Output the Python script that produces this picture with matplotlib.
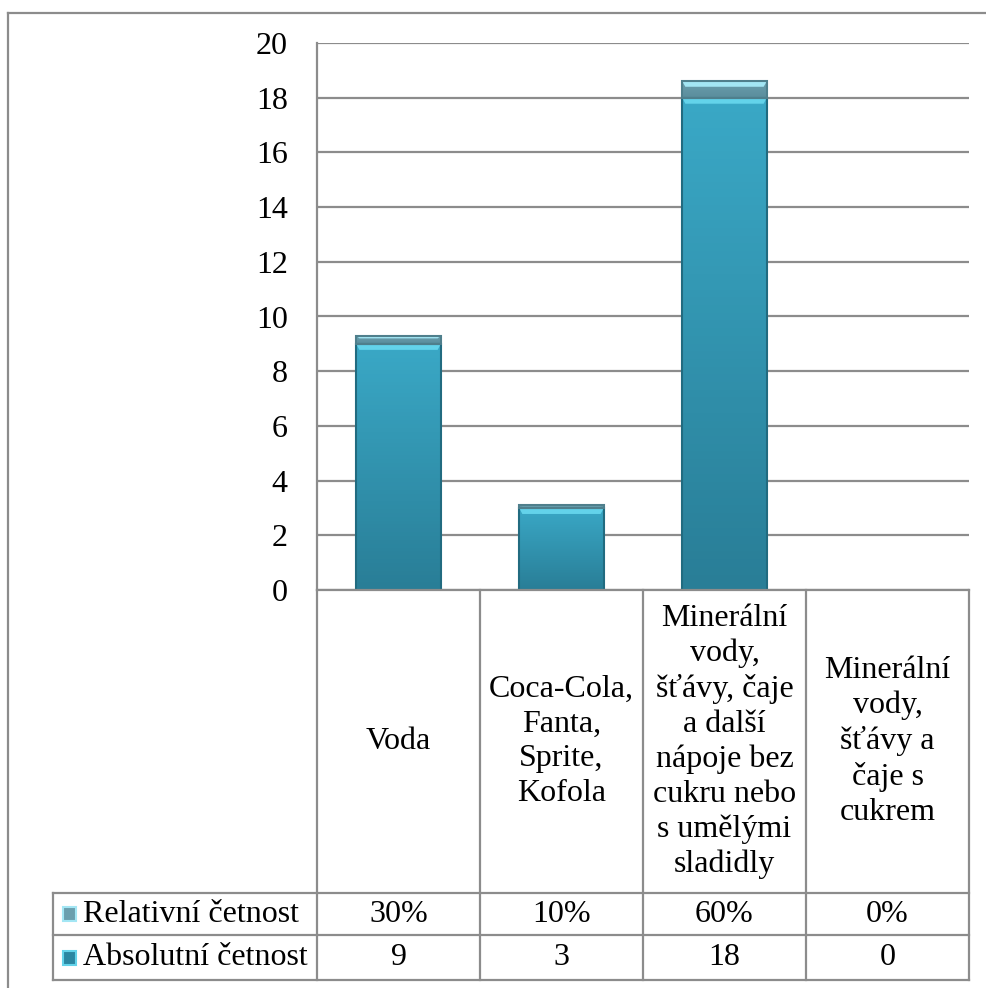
import matplotlib.pyplot as plt
import numpy as np
from matplotlib.lines import Line2D
from matplotlib.patches import Rectangle

plt.rcParams['font.family'] = ['Liberation Serif', 'DejaVu Serif']

# categories and counts
categories = ['Voda',
              'Coca-Cola,\nFanta,\nSprite,\nKofola',
              'Minerální\nvody,\nšťávy, čaje\na další\nnápoje bez\ncukru nebo\ns umělými\nsladidly',
              'Minerální\nvody,\nšťávy a\nčaje s\ncukrem']
absolute = [9, 3, 18, 0]
relative = [0.3, 0.1, 0.6, 0.0]
relative_labels = ['30%', '10%', '60%', '0%']
series_names = ['Relativní četnost', 'Absolutní četnost']
yticks = list(range(0, 21, 2))

W, H = 986, 988
fig = plt.figure(figsize=(W / 100, H / 100), dpi=100)
FS = 23
GRID = '#8c8c8c'


def fx(px):
    return px / W


def fy(py):
    return 1 - py / H


# plot area in pixels
left, right, top, base = 317, 969, 43, 590
ax = fig.add_axes([fx(left), fy(base), fx(right - left), fy(top) - fy(base)])
ax.set_xlim(-0.5, len(categories) - 0.5)
ax.set_ylim(0, 20)
ax.set_yticks(yticks)
ax.tick_params(axis='y', length=0, labelsize=FS, pad=21)
ax.set_xticks([])
ax.yaxis.grid(True, color=GRID, linewidth=1.6)
ax.set_axisbelow(True)
for s in ['top', 'right', 'bottom']:
    ax.spines[s].set_visible(False)
ax.spines['left'].set_color(GRID)
ax.spines['left'].set_linewidth(1.6)

x = np.arange(len(categories))
bw = 0.52
bev = 0.22


def gradient_bar(xc, y0, h, c_top, c_bot, hi, edge):
    if h <= 0:
        return
    rect = Rectangle((xc - bw / 2, y0), bw, h, facecolor='none', edgecolor='none')
    ax.add_patch(rect)
    cmap = plt.matplotlib.colors.LinearSegmentedColormap.from_list('g', [c_bot, c_top])
    grad = np.linspace(0, 1, 64).reshape(-1, 1)
    im = ax.imshow(grad, cmap=cmap, aspect='auto', origin='lower',
                   extent=(xc - bw / 2, xc + bw / 2, y0, y0 + h), zorder=2)
    im.set_clip_path(rect)
    # bevel: light top strip, dark outline
    b = min(bev, h / 3)
    ax.fill([xc - bw / 2, xc + bw / 2, xc + bw / 2 - 0.02, xc - bw / 2 + 0.02],
            [y0 + h, y0 + h, y0 + h - b, y0 + h - b], color=hi, zorder=3, lw=0)
    ax.add_patch(Rectangle((xc - bw / 2, y0), bw, h, facecolor='none',
                           edgecolor=edge, linewidth=1.5, zorder=4))


for i in range(len(categories)):
    gradient_bar(x[i], 0, absolute[i], '#3aa8c6', '#297e97', '#63d3ea', '#216b80')
    gradient_bar(x[i], absolute[i], relative[i], '#6b9fae', '#5a8d9c', '#a3e6f4', '#4f7f8c')
ax.set_xlim(-0.5, len(categories) - 0.5)
ax.set_ylim(0, 20)

# data table below the plot
col_x = np.linspace(left, right, len(categories) + 1)
row_y = [base, 893, 935, 980]
label_left = 53


def hline(x0, x1, y):
    fig.add_artist(Line2D([fx(x0), fx(x1)], [fy(y), fy(y)], color=GRID, lw=1.6))


def vline(xp, y0, y1):
    fig.add_artist(Line2D([fx(xp), fx(xp)], [fy(y0), fy(y1)], color=GRID, lw=1.6))


hline(left, right, row_y[0])
for y in row_y[1:]:
    hline(label_left, right, y)
for xp in col_x:
    vline(xp, row_y[0], row_y[-1])
vline(label_left, row_y[1], row_y[-1])

for i, cat in enumerate(categories):
    cx = (col_x[i] + col_x[i + 1]) / 2
    fig.text(fx(cx), fy((row_y[0] + row_y[1]) / 2), cat, ha='center', va='center',
             fontsize=FS, linespacing=1.26)
    fig.text(fx(cx), fy((row_y[1] + row_y[2]) / 2), relative_labels[i],
             ha='center', va='center', fontsize=FS)
    fig.text(fx(cx), fy((row_y[2] + row_y[3]) / 2), str(absolute[i]),
             ha='center', va='center', fontsize=FS)

# row headers with legend keys
key_cols = [('#a3e6f4', '#6b9fae'), ('#63d3ea', '#2b87a2')]
for r, name in enumerate(series_names):
    yc = (row_y[r + 1] + row_y[r + 2]) / 2
    kc = key_cols[r]
    fig.add_artist(Rectangle((fx(63), fy(yc + 7)), fx(13), fy(yc - 7) - fy(yc + 7),
                             facecolor=kc[1], edgecolor=kc[0], linewidth=1.5))
    fig.text(fx(83), fy(yc), name, ha='left', va='center', fontsize=FS)

# outer frame
fig.add_artist(Line2D([fx(8), fx(8)], [fy(13), 0], color=GRID, lw=1.6))
fig.add_artist(Line2D([fx(8), 1], [fy(13), fy(13)], color=GRID, lw=1.6))

fig.savefig('out.png', dpi=100)
